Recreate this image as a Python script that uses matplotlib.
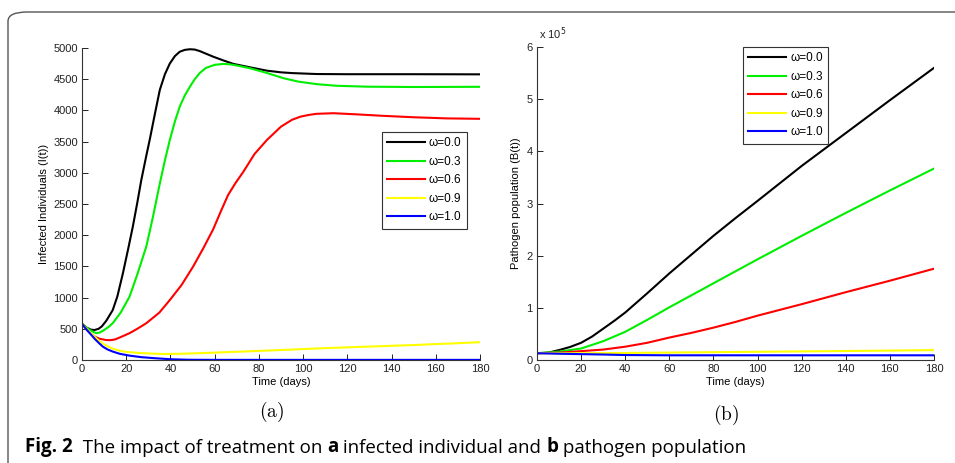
import matplotlib
matplotlib.use('Agg')
import matplotlib.pyplot as plt
from matplotlib.patches import FancyBboxPatch

# ---- data ----
omega_labels = ['ω=0.0', 'ω=0.3', 'ω=0.6', 'ω=0.9', 'ω=1.0']
line_colors = ['#000000', '#00ee00', '#ff0000', '#ffff00', '#0000ff']

# (a) infected individuals I(t)
t_I0 = [0, 2, 4, 5.6, 7.5, 9, 11, 13.9, 16, 18.5, 21, 23, 25, 26.8, 29, 30.6, 33, 35.2, 37.5, 39.7,
        42, 44.2, 46.5, 48.8, 51, 53.3, 56, 59.4, 64, 68.5, 76, 83.6, 90, 95, 106, 120, 150, 180]
I_0 = [580, 520, 487, 480, 500, 540, 630, 800, 1020, 1390, 1800, 2140, 2520, 2880, 3260, 3525, 3950, 4330, 4580, 4750,
       4870, 4940, 4970, 4980, 4975, 4950, 4910, 4860, 4800, 4745, 4690, 4637, 4610, 4598, 4583, 4580, 4580, 4578]
t_I3 = [0, 2, 4, 6.4, 8, 10, 12, 13.9, 17.5, 21.5, 25, 29.1, 32, 35.2, 37.5, 39.7, 42, 44.2, 46.5, 48.8,
        51, 53.3, 56, 60, 63.9, 67, 70, 76, 83.6, 91.2, 98, 106.4, 115, 129, 150, 180]
I_3 = [580, 520, 470, 430, 440, 480, 530, 590, 760, 1015, 1370, 1820, 2280, 2830, 3200, 3525, 3820, 4060, 4240, 4380,
       4500, 4600, 4680, 4730, 4745, 4738, 4720, 4675, 4600, 4515, 4460, 4420, 4395, 4380, 4375, 4378]
t_I6 = [0, 2, 4, 6, 8, 10.9, 13, 15, 18, 21.5, 25, 29.1, 35, 39.7, 45, 50.3, 55, 59.4, 62.4, 66, 69.5, 73, 78,
        83.6, 90, 95, 98.8, 103, 106, 113.8, 125, 135, 150, 165, 180]
I_6 = [580, 490, 420, 370, 340, 320, 318, 330, 375, 430, 500, 590, 760, 960, 1200, 1500, 1800, 2100, 2350, 2640, 2840, 3018, 3300,
       3525, 3740, 3850, 3900, 3930, 3945, 3955, 3935, 3915, 3890, 3872, 3865]
t_I9 = [0, 2, 4, 6.4, 8, 10, 13.9, 17, 20, 25, 29, 36.7, 45, 60, 71.5, 90, 110, 130, 150, 165, 180]
I_9 = [580, 500, 430, 350, 300, 250, 180, 150, 130, 115, 107, 96, 100, 118, 134, 160, 190, 215, 240, 262, 285]
t_I10 = [0, 2, 4, 6, 8, 9.4, 11.5, 13.9, 17, 21.5, 27, 33.6, 40, 48, 60, 100, 180]
I_10 = [580, 490, 410, 330, 260, 215, 170, 135, 100, 70, 45, 27, 12, 4, 2, 2, 2]

# (b) pathogen population B(t), units of 1e5
t_B0 = [0, 5, 10, 15, 20, 25, 30, 35, 40, 50, 60, 70, 80, 90, 100, 120, 140, 160, 180]
B_0 = [0.13, 0.14, 0.19, 0.25, 0.33, 0.45, 0.60, 0.75, 0.91, 1.28, 1.66, 2.02, 2.38, 2.72, 3.05, 3.72, 4.35, 4.98, 5.60]
t_B3 = [0, 10, 20, 30, 40, 50, 60, 70, 80, 100, 120, 140, 160, 180]
B_3 = [0.13, 0.16, 0.22, 0.36, 0.54, 0.77, 1.01, 1.24, 1.47, 1.93, 2.38, 2.82, 3.25, 3.67]
t_B6 = [0, 10, 20, 30, 40, 50, 60, 70, 80, 90, 100, 120, 140, 160, 180]
B_6 = [0.13, 0.14, 0.17, 0.20, 0.255, 0.33, 0.43, 0.52, 0.62, 0.73, 0.85, 1.07, 1.30, 1.52, 1.75]
t_B9 = [0, 20, 40, 80, 120, 160, 180]
B_9 = [0.13, 0.13, 0.135, 0.15, 0.165, 0.18, 0.19]
t_B10 = [0, 10, 30, 40, 60, 180]
B_10 = [0.13, 0.12, 0.105, 0.095, 0.09, 0.09]

TICK_FONT = 'Liberation Sans'

fig = plt.figure(figsize=(9.55, 4.63), dpi=100)
fig.patch.set_facecolor('white')


def style_axes(ax):
    ax.spines['top'].set_visible(False)
    ax.spines['right'].set_visible(False)
    for s in ('left', 'bottom'):
        ax.spines[s].set_linewidth(0.8)
        ax.spines[s].set_color('#333333')
    ax.tick_params(direction='in', length=4, width=0.7, labelsize=8, pad=3, colors='#222222')
    for lab in ax.get_xticklabels() + ax.get_yticklabels():
        lab.set_fontfamily(TICK_FONT)
    ax.set_xlim(0, 180)
    ax.set_xticks(range(0, 181, 20))


def add_legend(ax, anchor):
    leg = ax.legend(loc='upper right', bbox_to_anchor=anchor, fancybox=False,
                    edgecolor='#333333', framealpha=1, handlelength=3.2,
                    borderpad=0.45, labelspacing=0.55, handletextpad=0.35, borderaxespad=0,
                    prop={'family': TICK_FONT, 'size': 8.5})
    leg.get_frame().set_linewidth(0.8)
    return leg


# ---- panel (a) ----
ax1 = fig.add_axes([82 / 955, 1 - 360 / 463, 398 / 955, 312 / 463])
for t, y, c, lab in zip([t_I0, t_I3, t_I6, t_I9, t_I10], [I_0, I_3, I_6, I_9, I_10],
                        line_colors, omega_labels):
    ax1.plot(t, y, color=c, lw=1.5, label=lab)
ax1.set_ylim(0, 5000)
ax1.set_yticks(range(0, 5001, 500))
style_axes(ax1)
ax1.set_xlabel('Time (days)', fontsize=8, fontfamily=TICK_FONT, labelpad=2)
ax1.set_ylabel('Infected Individuals (I(t))', fontsize=8, fontfamily=TICK_FONT, labelpad=3)
add_legend(ax1, (0.967, 0.731))

# ---- panel (b) ----
ax2 = fig.add_axes([537 / 955, 1 - 360 / 463, 397 / 955, 313 / 463])
for t, y, c, lab in zip([t_B0, t_B3, t_B6, t_B9, t_B10], [B_0, B_3, B_6, B_9, B_10],
                        line_colors, omega_labels):
    ax2.plot(t, y, color=c, lw=1.5, label=lab)
ax2.set_ylim(0, 6)
ax2.set_yticks(range(0, 7))
style_axes(ax2)
ax2.set_xlabel('Time (days)', fontsize=8, fontfamily=TICK_FONT, labelpad=2)
ax2.set_ylabel('Pathogen population (B(t))', fontsize=8, fontfamily=TICK_FONT, labelpad=4)
ax2.text(0.005, 1.015, r'x 10$^{5}$', transform=ax2.transAxes, fontsize=8,
         fontfamily=TICK_FONT, va='bottom', ha='left', color='#222222')
add_legend(ax2, (0.733, 1.0))

# sub-figure labels
plt.rcParams['mathtext.fontset'] = 'cm'
fig.text(272 / 955, 1 - 412 / 463, r'$\mathrm{(a)}$', fontsize=14, ha='center', va='center')
fig.text(726 / 955, 1 - 415 / 463, r'$\mathrm{(b)}$', fontsize=14, ha='center', va='center')

# outer rounded frame
frame = FancyBboxPatch((8 / 955, -0.1), 1.2, (463 - 12) / 463 + 0.1,
                       boxstyle='round,pad=0,rounding_size=0.02', transform=fig.transFigure,
                       facecolor='none', edgecolor='#555555', lw=1.0, zorder=0)
fig.add_artist(frame)

# caption, mixing bold and regular runs
cap = fig.add_axes([0, 0, 1, 1], facecolor='none')
cap.axis('off')
runs = [('Fig. 2', 'bold'), ('  The impact of treatment on ', 'normal'), ('a', 'bold'),
        (' infected individual and ', 'normal'), ('b', 'bold'), (' pathogen population', 'normal')]
prev = cap.text(25 / 955, 1 - 452 / 463, runs[0][0], fontsize=13.5, fontweight=runs[0][1],
                fontfamily='Open Sans', va='baseline', ha='left', transform=fig.transFigure)
for txt, w in runs[1:]:
    prev = cap.annotate(txt, xy=(1, 0), xycoords=prev, va='bottom', ha='left',
                        fontsize=13.5, fontweight=w, fontfamily='Open Sans')

fig.savefig('out.png', dpi=100)
